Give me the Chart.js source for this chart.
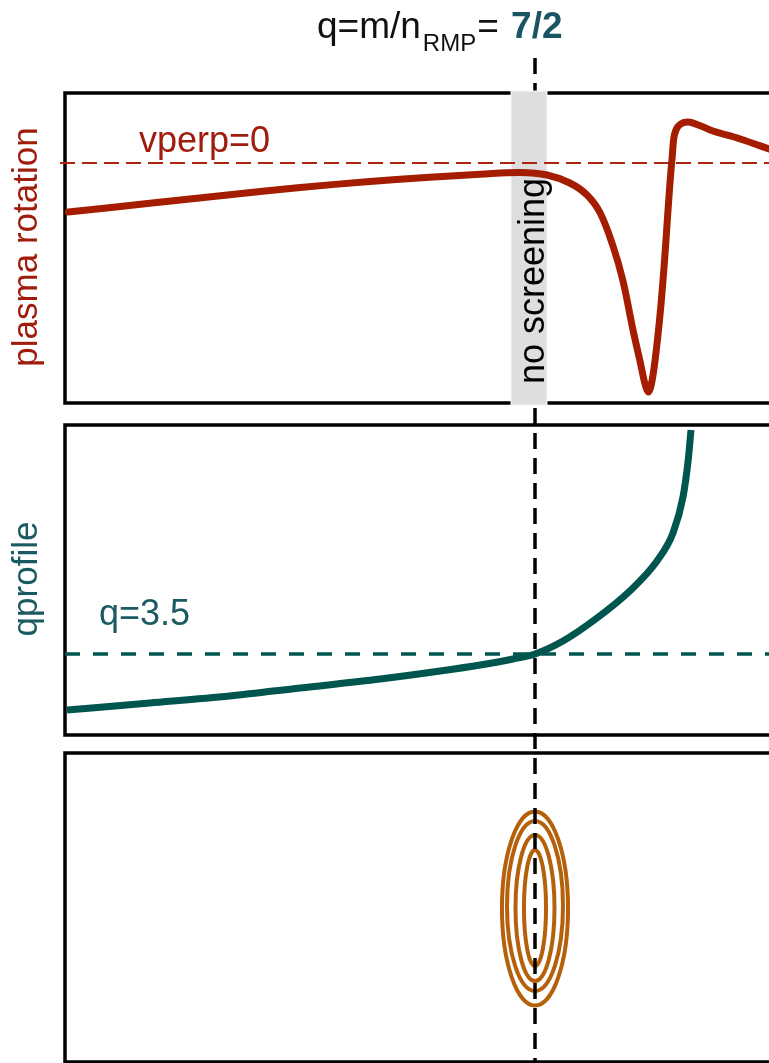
<!DOCTYPE html>
<html>
<head>
<meta charset="utf-8">
<script src="https://cdn.jsdelivr.net/npm/chart.js@4"></script>
<style>
  html, body { margin: 0; padding: 0; background: #fff; overflow: hidden; width: 769px; height: 1063px; }
  #wrap { position: relative; width: 769px; height: 1063px; overflow: hidden; }
  canvas { position: absolute; left: 0; }
</style>
</head>
<body>
<div id="wrap">
  <canvas id="rot" width="880" height="414" style="top:0px"></canvas>
  <canvas id="qp" width="880" height="330" style="top:414px"></canvas>
  <canvas id="isl" width="880" height="319" style="top:744px"></canvas>
</div>
<script>
// ---- data (normalised radius on x) ----
const resonanceX = 0.5875;              // radius of the q = 7/2 surface
const screeningBand = [0.5575, 0.6025]; // "no screening" region

// plasma rotation profile (perpendicular velocity, arbitrary units)
const rotationX = [0.004, 0.106, 0.206, 0.294, 0.381, 0.456, 0.519, 0.569, 0.6025, 0.631,
                   0.6525, 0.669, 0.685, 0.6975, 0.71, 0.719, 0.725, 0.729, 0.7325, 0.7375,
                   0.744, 0.749, 0.7525, 0.756, 0.759, 0.762, 0.768, 0.779, 0.795, 0.81,
                   0.844, 0.88, 0.919];
const rotationV = [-4.9, -4.03, -3.17, -2.45, -1.85, -1.42, -1.13, -0.95, -1.2, -2.0,
                   -3.2, -5.0, -8.3, -11.8, -16.7, -19.9, -22.1, -22.9, -22.3, -19.8,
                   -15.0, -10.2, -6.2, -2.2, 0.6, 2.9, 3.8, 4.1, 3.7, 3.2,
                   2.4, 1.4, 0.3];
const vperpZero = 0;

// safety factor profile
const qX = [0.0025, 0.106, 0.206, 0.294, 0.394, 0.469, 0.519, 0.56, 0.5875, 0.6225,
            0.665, 0.706, 0.74, 0.76, 0.7725, 0.779, 0.7825];
const qV = [2.38, 2.52, 2.66, 2.82, 3.0, 3.16, 3.28, 3.4, 3.5, 3.76,
            4.22, 4.76, 5.36, 5.92, 6.64, 7.38, 7.98];
const qResonant = 3.5;

// magnetic island flux contours around the O-point
const contourHalfWidth  = [0.0413, 0.035, 0.0244, 0.0138];
const contourHalfHeight = [0.97, 0.85, 0.73, 0.58];
const contourCentreY    = [-0.005, 0.02, 0.0, 0.0];

// ---- styling ----
const FONT = "'Liberation Sans', Arial, Helvetica, sans-serif";
const RED = '#a51d00';
const RED_TEXT = '#a01c0c';
const TEAL = '#00564f';
const TEAL_TEXT = '#1b5a62';
const ORANGE = '#b5600a';
const DASH_START = 58;   // page y where the resonance line begins

function frame(chart) {
  const { ctx, chartArea: a } = chart;
  ctx.save();
  ctx.strokeStyle = '#000';
  ctx.lineWidth = 3.5;
  ctx.strokeRect(a.left, a.top, a.right - a.left, a.bottom - a.top);
  ctx.restore();
}

function resonanceLine(chart, y0, y1, canvasTop) {
  const { ctx } = chart;
  const x = chart.scales.x.getPixelForValue(resonanceX);
  ctx.save();
  ctx.strokeStyle = '#000';
  ctx.lineWidth = 3.5;
  ctx.setLineDash([16, 9]);
  ctx.lineDashOffset = canvasTop + y0 - DASH_START;
  ctx.beginPath();
  ctx.moveTo(x, y0);
  ctx.lineTo(x, y1);
  ctx.stroke();
  ctx.restore();
}

function verticalText(ctx, text, x, y, font, color) {
  ctx.save();
  ctx.translate(x, y);
  ctx.rotate(-Math.PI / 2);
  ctx.font = font;
  ctx.fillStyle = color;
  ctx.textAlign = 'center';
  ctx.textBaseline = 'alphabetic';
  ctx.fillText(text, 0, 0);
  ctx.restore();
}

function baseOptions(padding, yMin, yMax) {
  return {
    responsive: false,
    animation: false,
    devicePixelRatio: 1,
    layout: { padding },
    scales: {
      x: { type: 'linear', min: 0, max: 1, display: false },
      y: { type: 'linear', min: yMin, max: yMax, display: false }
    },
    plugins: { legend: { display: false }, tooltip: { enabled: false } },
    elements: { point: { radius: 0 } }
  };
}

// ---- panel 1: plasma rotation ----
new Chart(document.getElementById('rot'), {
  type: 'line',
  data: {
    datasets: [
      {
        data: rotationX.map((x, i) => ({ x, y: rotationV[i] })),
        borderColor: RED, borderWidth: 7, tension: 0.35,
        borderCapStyle: 'round', borderJoinStyle: 'round'
      },
      {
        data: [{ x: -0.00625, y: vperpZero }, { x: 1.1, y: vperpZero }],
        borderColor: '#ab240c', borderWidth: 1.8, borderDash: [15, 7], clip: false
      }
    ]
  },
  options: baseOptions({ left: 65, right: 15, top: 93, bottom: 11 }, -24, 7),
  plugins: [{
    id: 'rotDecor',
    beforeDatasetsDraw(chart) {
      const { ctx, chartArea: a, scales } = chart;
      frame(chart);
      resonanceLine(chart, DASH_START, chart.height, 0);
      const x0 = scales.x.getPixelForValue(screeningBand[0]);
      const x1 = scales.x.getPixelForValue(screeningBand[1]);
      ctx.save();
      ctx.fillStyle = '#dedede';
      ctx.fillRect(x0, a.top - 2, x1 - x0, a.bottom - a.top + 4);
      ctx.strokeStyle = '#f6f6f6';
      ctx.lineWidth = 1;
      ctx.strokeRect(x0, a.top - 2, x1 - x0, a.bottom - a.top + 4);
      ctx.restore();
      verticalText(ctx, 'no screening', 544, 281, '36px ' + FONT, '#000');
    },
    afterDraw(chart) {
      const { ctx } = chart;
      verticalText(ctx, 'plasma rotation', 37, 247, '35px ' + FONT, RED_TEXT);
      ctx.save();
      ctx.font = '36px ' + FONT;
      ctx.fillStyle = RED_TEXT;
      ctx.textBaseline = 'alphabetic';
      ctx.fillText('vperp=0', 139, 152);
      // title: q = m / n_RMP = 7/2
      let x = 317;
      ctx.fillStyle = '#111';
      ctx.font = '37px ' + FONT;
      ctx.fillText('q=m/n', x, 38);
      x += ctx.measureText('q=m/n').width + 2;
      ctx.font = '24px ' + FONT;
      ctx.fillText('RMP', x, 51);
      x += ctx.measureText('RMP').width + 1;
      ctx.font = '37px ' + FONT;
      ctx.fillText('= ', x, 38);
      x += ctx.measureText('= ').width + 2;
      ctx.font = 'bold 37px ' + FONT;
      ctx.fillStyle = '#1b5563';
      ctx.fillText('7/2', x, 38);
      ctx.restore();
    }
  }]
});

// ---- panel 2: q profile ----
new Chart(document.getElementById('qp'), {
  type: 'line',
  data: {
    datasets: [
      {
        data: qX.map((x, i) => ({ x, y: qV[i] })),
        borderColor: TEAL, borderWidth: 7, cubicInterpolationMode: 'monotone',
        borderCapStyle: 'butt'
      },
      {
        data: [{ x: 0, y: qResonant }, { x: 1.1, y: qResonant }],
        borderColor: TEAL, borderWidth: 3.5, borderDash: [15, 13]
      }
    ]
  },
  options: baseOptions({ left: 65, right: 15, top: 11, bottom: 9 }, 1.88, 8.08),
  plugins: [{
    id: 'qDecor',
    beforeDatasetsDraw(chart) { frame(chart); },
    afterDatasetsDraw(chart) { resonanceLine(chart, 0, chart.height, 414); },
    afterDraw(chart) {
      const { ctx } = chart;
      verticalText(ctx, 'qprofile', 37, 165, '35px ' + FONT, TEAL_TEXT);
      ctx.save();
      ctx.font = '36px ' + FONT;
      ctx.fillStyle = TEAL_TEXT;
      ctx.fillText('q=3.5', 99, 211);
      ctx.restore();
    }
  }]
});

// ---- panel 3: island contours ----
new Chart(document.getElementById('isl'), {
  type: 'line',
  data: { datasets: [{ data: [] }] },
  options: baseOptions({ left: 65, right: 15, top: 9, bottom: 1 }, -1.54, 1.55),
  plugins: [{
    id: 'islandDecor',
    beforeDatasetsDraw(chart) {
      const { ctx, scales } = chart;
      frame(chart);
      ctx.save();
      ctx.strokeStyle = ORANGE;
      ctx.lineWidth = 4;
      const cx = scales.x.getPixelForValue(resonanceX);
      contourHalfWidth.forEach((hw, i) => {
        const cy = scales.y.getPixelForValue(contourCentreY[i]);
        const rx = scales.x.getPixelForValue(resonanceX + hw) - cx;
        const ry = cy - scales.y.getPixelForValue(contourCentreY[i] + contourHalfHeight[i]);
        ctx.beginPath();
        ctx.ellipse(cx, cy, rx, ry, 0, 0, Math.PI * 2);
        ctx.stroke();
      });
      ctx.restore();
    },
    afterDatasetsDraw(chart) { resonanceLine(chart, 0, chart.height, 744); }
  }]
});
</script>
</body>
</html>
